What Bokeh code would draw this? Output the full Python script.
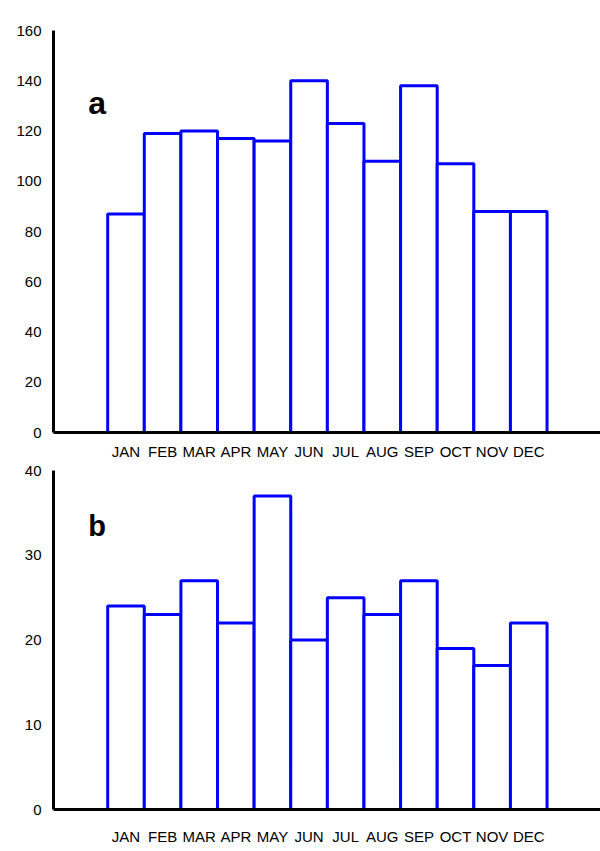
from bokeh.plotting import figure
from bokeh.layouts import column
from bokeh.models import Range1d, FixedTicker, Label, ColumnDataSource
from bokeh.embed import file_html
from bokeh.resources import INLINE

months = ["JAN", "FEB", "MAR", "APR", "MAY", "JUN", "JUL", "AUG", "SEP", "OCT", "NOV", "DEC"]
values_a = [87, 119, 120, 117, 116, 140, 123, 108, 138, 107, 88, 88]
values_b = [24, 23, 27, 22, 37, 20, 25, 23, 27, 19, 17, 22]
yticks_a = [0, 20, 40, 60, 80, 100, 120, 140, 160]
yticks_b = [0, 10, 20, 30, 40]

FONT = "Liberation Sans"
BLUE = "#0000ff"
pos = list(range(1, len(months) + 1))


def make_panel(values, yticks, letter, letter_y, letter_size, height,
               border_top, border_bottom, xstandoff):
    p = figure(width=600, height=height, output_backend="svg", toolbar_location=None,
               x_range=Range1d(-0.98, 13.96), y_range=Range1d(yticks[0], yticks[-1]),
               min_border_left=53, min_border_right=0,
               min_border_top=border_top, min_border_bottom=border_bottom)
    p.outline_line_color = None
    p.grid.visible = False
    p.background_fill_color = "white"
    src = ColumnDataSource(dict(x=pos, top=values))
    p.vbar(x="x", top="top", bottom=0, width=1.0, source=src,
           fill_color="white", line_color=BLUE, line_width=3)

    for ax in (p.xaxis[0], p.yaxis[0]):
        ax.axis_line_color = "black"
        ax.axis_line_width = 3
        ax.major_tick_line_color = None
        ax.minor_tick_line_color = None
        ax.major_label_text_font = FONT
        ax.major_label_text_font_size = "15px"
        ax.major_label_text_color = "black"

    p.xaxis.ticker = FixedTicker(ticks=pos)
    p.xaxis.major_label_overrides = {i: m for i, m in zip(pos, months)}
    p.xaxis.major_label_standoff = xstandoff
    p.yaxis.ticker = FixedTicker(ticks=yticks)
    p.yaxis.major_label_standoff = 6

    p.add_layout(Label(x=-0.03, y=letter_y, text=letter, text_font=FONT,
                       text_font_style="bold", text_font_size=letter_size,
                       text_color="black", text_baseline="alphabetic"))
    return p


p1 = make_panel(values_a, yticks_a, "a", 131, "32px", 462, 30, 30, 4)
p2 = make_panel(values_b, yticks_b, "b", 33.4, "29px", 389, 8, 42, 12)

layout = column(p1, p2, spacing=0)
open("out.html", "w").write(file_html(layout, INLINE))
